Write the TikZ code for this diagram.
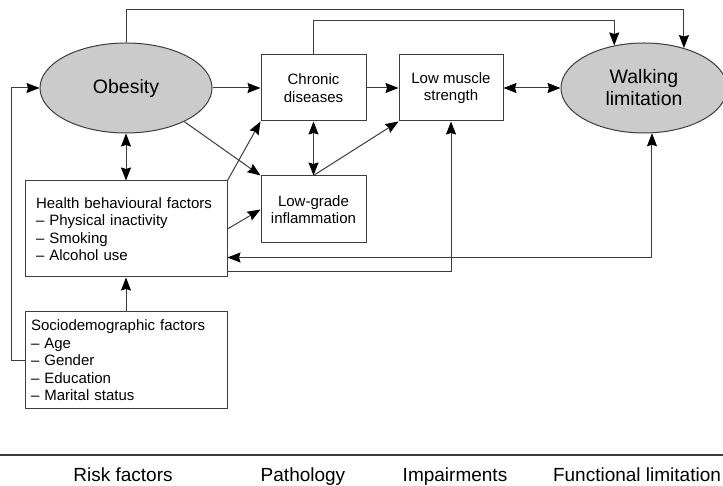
\documentclass[tikz,border=0pt]{standalone}
\usepackage{fontspec}
\setmainfont{Liberation Sans}
\usepackage{tikz}
\usetikzlibrary{arrows.meta,positioning,calc,shapes.geometric}
\definecolor{linegrey}{HTML}{3C3C3C}
\definecolor{blobgrey}{HTML}{CBCBCB}
\tikzset{
  box/.style      = {draw=linegrey, line width=1pt, minimum width=105pt, minimum height=66pt,
                     inner sep=2pt, align=center, font=\fontsize{15}{17.5}\selectfont},
  factors/.style  = {box, align=left, minimum height=96pt},
  blob/.style     = {ellipse, draw=linegrey, line width=1pt, fill=blobgrey, inner sep=0pt,
                     minimum height=90pt, align=center, font=\fontsize{19.5}{22}\selectfont},
  tip/.tip        = {Stealth[length=13pt, width=10pt, inset=1.5pt, color=black]},
  sig/.style      = {-tip, line width=1pt, draw=linegrey},
  both/.style     = {tip-tip, line width=1pt, draw=linegrey},
  stage/.style    = {anchor=base, inner sep=0pt, font=\fontsize{19}{22}\selectfont},
}
\begin{document}
\begin{tikzpicture}[x=1pt, y=1pt]
  \useasboundingbox (0,0) rectangle (723,486);
  % top row
  \node[blob, minimum width=172pt] (obesity) at (126,398) {Obesity};
  \node[box, right=48pt of obesity] (chronic) {Chronic\\diseases};
  \node[box, right=32pt of chronic, minimum width=104pt] (muscle) {Low muscle\\strength};
  \node[blob, right=57pt of muscle, minimum width=166pt] (walking) {Walking\\limitation};
  % lower boxes
  \node[box, below=54pt of chronic, minimum height=67pt] (lowgrade) {Low-grade\\inflammation};
  \node[factors, below=47pt of obesity, text width=180pt, inner xsep=11pt] (health)
    {Health behavioural factors\\-- Physical inactivity\\-- Smoking\\-- Alcohol use};
  \node[factors, below=34pt of health, text width=190pt, inner xsep=6pt, minimum height=97pt] (socio)
    {Sociodemographic factors\\-- Age\\-- Gender\\-- Education\\-- Marital status};
  % connectors
  \draw[sig] (obesity.north) -- ++(0,33pt) -| (walking.45);
  \draw[sig] (chronic.north) -- ++(0,34pt) -| (walking.125);
  \draw[sig] (obesity) -- (chronic);
  \draw[sig] (chronic) -- (muscle);
  \draw[both] (muscle) -- (walking);
  \draw[both] (obesity.south) -- (obesity.south |- health.north);
  \draw[sig] (obesity.-30) -- (lowgrade.north west);
  \draw[sig] (health.north east) -- (chronic.south west);
  \draw[both] (chronic) -- (lowgrade);
  \draw[sig] (lowgrade.north) -- (muscle.south west);
  \draw[sig] (health.east) -- (lowgrade.west);
  \draw[sig] ([yshift=6pt]health.south east) -| (muscle.south);
  \draw[both] (walking.-80) |- ([yshift=20pt]health.south east);
  \draw[sig] (socio) -- (health);
  \draw[sig] (socio.west) -- ++(-13pt,0) |- (obesity.west);
  % stages
  \draw[line width=1.8pt, draw=linegrey] (0,31) -- (723,31);
  \node[stage] (risk) at (123,4) {Risk factors};
  \node[stage] (patho) at (303,4) {Pathology};
  \node[stage] (impair) at (455,4) {Impairments};
  \node[stage] (funct) at (637,4) {Functional limitation};
\end{tikzpicture}
\end{document}
